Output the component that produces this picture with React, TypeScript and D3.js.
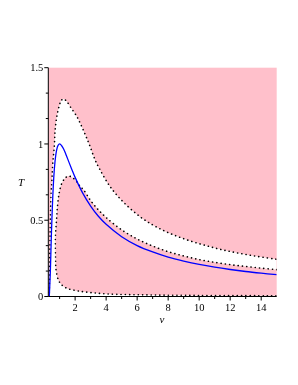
import * as d3 from 'd3';

// blue curve (solid)
const blueV = [0.333, 0.36, 0.4, 0.45, 0.5, 0.6, 0.7, 0.8, 0.9, 1.0, 1.2, 1.4, 1.6, 1.8, 2, 2.5, 3, 3.5, 4, 5, 6, 7, 8, 9, 10, 11, 12, 13, 14, 15];
const blueT = [0, 0.06, 0.156, 0.336, 0.5, 0.741, 0.882, 0.957, 0.991, 1.0, 0.978, 0.933, 0.881, 0.83, 0.781, 0.676, 0.593, 0.526, 0.473, 0.392, 0.334, 0.292, 0.258, 0.232, 0.21, 0.192, 0.177, 0.164, 0.153, 0.143];

// outer dotted curve
const upperV = [0.335, 0.345, 0.37, 0.4, 0.45, 0.5, 0.56, 0.66, 0.71, 0.82, 0.99, 1.1, 1.25, 1.45, 1.68, 2.11, 2.43, 2.71, 2.97, 3.29, 3.61, 4.26, 5.1, 6.2, 7.2, 8.3, 9.4, 10.5, 11.5, 12.6, 13.8, 15];
const upperT = [0, 0.1, 0.3, 0.5, 0.68, 0.76, 0.875, 0.99, 1.09, 1.18, 1.256, 1.285, 1.295, 1.28, 1.245, 1.18, 1.113, 1.048, 0.982, 0.895, 0.83, 0.72, 0.62, 0.522, 0.458, 0.406, 0.365, 0.332, 0.306, 0.283, 0.262, 0.244];

// inner dotted loop (from right edge, over the hump, down and along the bottom)
const loopV = [15, 14, 13, 12, 11, 10, 9, 8, 7, 6, 5, 4, 3.5, 3, 2.54, 2.3, 2.1, 1.85, 1.57, 1.35, 1.14, 0.97, 0.86, 0.8, 0.73, 0.74, 0.77, 0.92, 1.1, 1.46, 2.0, 2.54, 4.05, 6.84, 10, 15];
const loopT = [0.176, 0.186, 0.197, 0.209, 0.224, 0.242, 0.266, 0.294, 0.331, 0.377, 0.437, 0.518, 0.568, 0.629, 0.7, 0.725, 0.753, 0.778, 0.79, 0.775, 0.742, 0.677, 0.589, 0.5, 0.39, 0.25, 0.174, 0.108, 0.08, 0.054, 0.04, 0.031, 0.017, 0.01, 0.007, 0.005];

const xMajor = [2, 4, 6, 8, 10, 12, 14];
const xMinor = [1, 3, 5, 7, 9, 11, 13];
const yMajor = [0, 0.5, 1, 1.5];
const yMajorLabels = ['0', '0.5', '1', '1.5'];
const yMinor = [1 / 6, 2 / 6, 4 / 6, 5 / 6, 7 / 6, 8 / 6];

export default function App() {
  const x = d3.scaleLinear().domain([0.27, 15]).range([48.3, 276.7]);
  const y = d3.scaleLinear().domain([0, 1.5]).range([296.5, 67.7]);

  const line = d3.line<[number, number]>()
    .x(d => x(d[0]))
    .y(d => y(d[1]))
    .curve(d3.curveCatmullRom.alpha(0.5));

  const bluePts = blueV.map((v, i) => [v, blueT[i]] as [number, number]);
  const upperPts = upperV.map((v, i) => [v, upperT[i]] as [number, number]);
  const loopPts = loopV.map((v, i) => [v, loopT[i]] as [number, number]);

  const whitePath =
    line(upperPts) + `L${x(15)},${y(0)}L${x(upperV[0])},${y(0)}Z` +
    line(loopPts) + 'Z';

  const font = '"Liberation Serif", "Times New Roman", serif';

  return (
    <svg width={298} height={385} style={{ position: 'fixed', left: 0, top: 0 }}>
      <defs>
        <clipPath id="plot">
          <rect x={x(0.27)} y={y(1.5)} width={x(15) - x(0.27)} height={y(0) - y(1.5)} />
        </clipPath>
      </defs>
      <rect x={x(0.27)} y={y(1.5)} width={x(15) - x(0.27)} height={y(0) - y(1.5)} fill="#ffc0cb" />
      <g clipPath="url(#plot)">
        <path d={whitePath} fill="#fff" fillRule="evenodd" />
        <path d={line(upperPts) || ''} fill="none" stroke="#000" strokeWidth={1.6}
          strokeDasharray="0.1 4.2" strokeLinecap="round" />
        <path d={line(loopPts) || ''} fill="none" stroke="#000" strokeWidth={1.6}
          strokeDasharray="0.1 4.2" strokeLinecap="round" />
        <path d={line(bluePts) || ''} fill="none" stroke="#0000ff" strokeWidth={1.3} />
      </g>
      {/* axes */}
      <line x1={x(0.27)} x2={x(0.27)} y1={y(1.5)} y2={y(0)} stroke="#000" strokeWidth={1} />
      <line x1={x(0.27)} x2={x(15)} y1={y(0)} y2={y(0)} stroke="#000" strokeWidth={1} />
      {yMajor.map((t, i) => (
        <g key={'ym' + i}>
          <line x1={x(0.27) - 4} x2={x(0.27)} y1={y(t)} y2={y(t)} stroke="#000" />
          <text x={x(0.27) - 5} y={y(t)} dy="0.35em" textAnchor="end" fontFamily={font} fontSize={10.5}>{yMajorLabels[i]}</text>
        </g>
      ))}
      {yMinor.map((t, i) => (
        <line key={'yn' + i} x1={x(0.27) - 2.5} x2={x(0.27)} y1={y(t)} y2={y(t)} stroke="#000" />
      ))}
      {xMajor.map((v, i) => (
        <g key={'xm' + i}>
          <line x1={x(v)} x2={x(v)} y1={y(0)} y2={y(0) + 4} stroke="#000" />
          <text x={x(v)} y={310.5} textAnchor="middle" fontFamily={font} fontSize={10.5}>{v}</text>
        </g>
      ))}
      {xMinor.map((v, i) => (
        <line key={'xn' + i} x1={x(v)} x2={x(v)} y1={y(0)} y2={y(0) + 2.5} stroke="#000" />
      ))}
      <text x={21} y={186} textAnchor="middle" fontFamily={font} fontStyle="italic" fontSize={11}>T</text>
      <text x={162} y={322.5} textAnchor="middle" fontFamily={font} fontStyle="italic" fontSize={11}>v</text>
    </svg>
  );
}
